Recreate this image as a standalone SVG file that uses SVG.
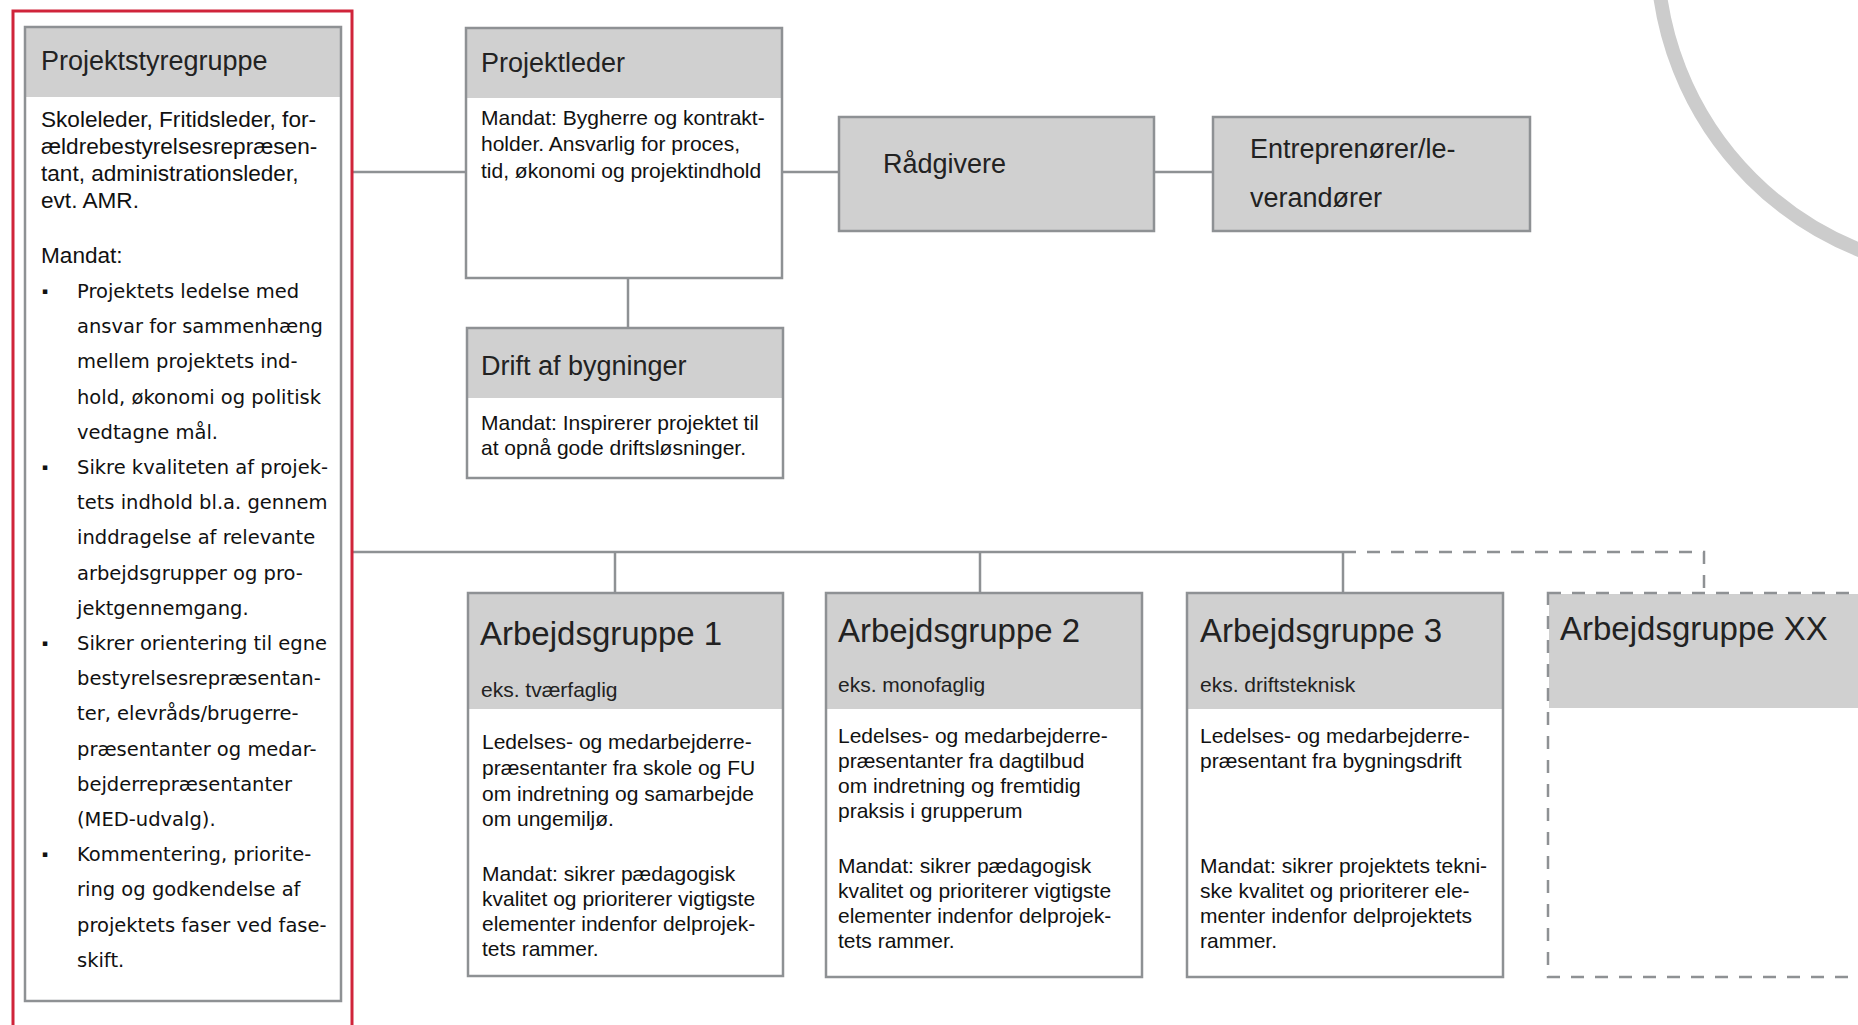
<svg xmlns="http://www.w3.org/2000/svg" width="1858" height="1025" viewBox="0 0 1858 1025">
<style>
  .bg{fill:#ffffff;stroke:none}
  .hdr{fill:#d0d0d0;stroke:none}
  .frame{fill:none;stroke:#8e9194;stroke-width:2.5}
  .dframe{fill:none;stroke:#8e9194;stroke-width:2.5;stroke-dasharray:13 11}
  .conn{fill:none;stroke:#8e9194;stroke-width:2.5}
  .dconn{fill:none;stroke:#8e9194;stroke-width:2.5;stroke-dasharray:13 11}
  .title{font-family:"Liberation Sans",Arial,sans-serif;font-size:27px;fill:#222}
  .big{font-family:"Liberation Sans",Arial,sans-serif;font-size:33px;fill:#222}
  .sub{font-family:"Liberation Sans",Arial,sans-serif;font-size:21px;fill:#222}
  .body{font-family:"Liberation Sans",Arial,sans-serif;font-size:21px;fill:#111}
  .body2{font-family:"Liberation Sans",Arial,sans-serif;font-size:22.6px;fill:#111}
  .bul{font-family:"DejaVu Sans",Verdana,sans-serif;font-size:19.5px;fill:#111}
  .dot{font-family:"DejaVu Sans",Verdana,sans-serif;font-size:9px;fill:#111}
</style>

<circle cx="1979" cy="-49" r="322" fill="none" stroke="#cccccc" stroke-width="14"/>

<g id="connectors">
  <path class="conn" d="M352,172 H466"/>
  <path class="conn" d="M782,172 H839"/>
  <path class="conn" d="M1154,172 H1213"/>
  <path class="conn" d="M628,278 V328"/>
  <path class="conn" d="M352,552 H1343"/>
  <path class="conn" d="M615,552 V593"/>
  <path class="conn" d="M980,552 V593"/>
  <path class="conn" d="M1343,552 V593"/>
  <path class="dconn" d="M1343,552 H1704 V593"/>
</g>

<g id="projektstyregruppe">
  <rect x="13" y="11" width="339" height="1030" fill="none" stroke="#d0243a" stroke-width="3"/>
  <rect class="bg" x="25" y="27" width="316" height="974"/>
  <rect class="hdr" x="25" y="27" width="316" height="70"/>
  <rect class="frame" x="25" y="27" width="316" height="974"/>
  <text class="title" x="41" y="70">Projektstyregruppe</text>
  <text class="body2" x="41" y="127">Skoleleder, Fritidsleder, for-</text>
  <text class="body2" x="41" y="154">ældrebestyrelsesrepræsen-</text>
  <text class="body2" x="41" y="181">tant, administrationsleder,</text>
  <text class="body2" x="41" y="208">evt. AMR.</text>
  <text class="body2" x="41" y="263">Mandat:</text>
  <g class="dot">
    <text x="42" y="294">▪</text>
    <text x="42" y="470">▪</text>
    <text x="42" y="646">▪</text>
    <text x="42" y="857">▪</text>
  </g>
  <g class="bul">
    <text x="77" y="298">Projektets ledelse med</text>
    <text x="77" y="333">ansvar for sammenhæng</text>
    <text x="77" y="368">mellem projektets ind-</text>
    <text x="77" y="404">hold, økonomi og politisk</text>
    <text x="77" y="439">vedtagne mål.</text>
    <text x="77" y="474">Sikre kvaliteten af projek-</text>
    <text x="77" y="509">tets indhold bl.a. gennem</text>
    <text x="77" y="544">inddragelse af relevante</text>
    <text x="77" y="580">arbejdsgrupper og pro-</text>
    <text x="77" y="615">jektgennemgang.</text>
    <text x="77" y="650">Sikrer orientering til egne</text>
    <text x="77" y="685">bestyrelsesrepræsentan-</text>
    <text x="77" y="720">ter, elevråds/brugerre-</text>
    <text x="77" y="756">præsentanter og medar-</text>
    <text x="77" y="791">bejderrepræsentanter</text>
    <text x="77" y="826">(MED-udvalg).</text>
    <text x="77" y="861">Kommentering, priorite-</text>
    <text x="77" y="896">ring og godkendelse af</text>
    <text x="77" y="932">projektets faser ved fase-</text>
    <text x="77" y="967">skift.</text>
  </g>
</g>

<g id="projektleder">
  <rect class="bg" x="466" y="28" width="316" height="250"/>
  <rect class="hdr" x="466" y="28" width="316" height="70"/>
  <rect class="frame" x="466" y="28" width="316" height="250"/>
  <text class="title" x="481" y="72">Projektleder</text>
  <text class="body" x="481" y="125">Mandat: Bygherre og kontrakt-</text>
  <text class="body" x="481" y="151">holder. Ansvarlig for proces,</text>
  <text class="body" x="481" y="178">tid, økonomi og projektindhold</text>
</g>

<g id="drift">
  <rect class="bg" x="467" y="328" width="316" height="150"/>
  <rect class="hdr" x="467" y="328" width="316" height="70"/>
  <rect class="frame" x="467" y="328" width="316" height="150"/>
  <text class="title" x="481" y="375">Drift af bygninger</text>
  <text class="body" x="481" y="430">Mandat: Inspirerer projektet til</text>
  <text class="body" x="481" y="455">at opnå gode driftsløsninger.</text>
</g>

<g id="raadgivere">
  <rect class="hdr" x="839" y="117" width="315" height="114"/>
  <rect class="frame" x="839" y="117" width="315" height="114"/>
  <text class="title" x="883" y="173">Rådgivere</text>
</g>

<g id="entreprenoerer">
  <rect class="hdr" x="1213" y="117" width="317" height="114"/>
  <rect class="frame" x="1213" y="117" width="317" height="114"/>
  <text class="title" x="1250" y="158">Entreprenører/le-</text>
  <text class="title" x="1250" y="207">verandører</text>
</g>

<g id="arbejdsgruppe1">
  <rect class="bg" x="468" y="593" width="315" height="383"/>
  <rect class="hdr" x="468" y="593" width="315" height="116"/>
  <rect class="frame" x="468" y="593" width="315" height="383"/>
  <text class="big" x="480" y="645">Arbejdsgruppe 1</text>
  <text class="sub" x="481" y="697">eks. tværfaglig</text>
  <text class="body" x="482" y="749">Ledelses- og medarbejderre-</text>
  <text class="body" x="482" y="775">præsentanter fra skole og FU</text>
  <text class="body" x="482" y="801">om indretning og samarbejde</text>
  <text class="body" x="482" y="826">om ungemiljø.</text>
  <text class="body" x="482" y="881">Mandat: sikrer pædagogisk</text>
  <text class="body" x="482" y="906">kvalitet og prioriterer vigtigste</text>
  <text class="body" x="482" y="931">elementer indenfor delprojek-</text>
  <text class="body" x="482" y="956">tets rammer.</text>
</g>

<g id="arbejdsgruppe2">
  <rect class="bg" x="826" y="593" width="316" height="384"/>
  <rect class="hdr" x="826" y="593" width="316" height="116"/>
  <rect class="frame" x="826" y="593" width="316" height="384"/>
  <text class="big" x="838" y="642">Arbejdsgruppe 2</text>
  <text class="sub" x="838" y="692">eks. monofaglig</text>
  <text class="body" x="838" y="743">Ledelses- og medarbejderre-</text>
  <text class="body" x="838" y="768">præsentanter fra dagtilbud</text>
  <text class="body" x="838" y="793">om indretning og fremtidig</text>
  <text class="body" x="838" y="818">praksis i grupperum</text>
  <text class="body" x="838" y="873">Mandat: sikrer pædagogisk</text>
  <text class="body" x="838" y="898">kvalitet og prioriterer vigtigste</text>
  <text class="body" x="838" y="923">elementer indenfor delprojek-</text>
  <text class="body" x="838" y="948">tets rammer.</text>
</g>

<g id="arbejdsgruppe3">
  <rect class="bg" x="1187" y="593" width="316" height="384"/>
  <rect class="hdr" x="1187" y="593" width="316" height="116"/>
  <rect class="frame" x="1187" y="593" width="316" height="384"/>
  <text class="big" x="1200" y="642">Arbejdsgruppe 3</text>
  <text class="sub" x="1200" y="692">eks. driftsteknisk</text>
  <text class="body" x="1200" y="743">Ledelses- og medarbejderre-</text>
  <text class="body" x="1200" y="768">præsentant fra bygningsdrift</text>
  <text class="body" x="1200" y="873">Mandat: sikrer projektets tekni-</text>
  <text class="body" x="1200" y="898">ske kvalitet og prioriterer ele-</text>
  <text class="body" x="1200" y="923">menter indenfor delprojektets</text>
  <text class="body" x="1200" y="948">rammer.</text>
</g>

<g id="arbejdsgruppeXX">
  <rect class="hdr" x="1549" y="594" width="320" height="114"/>
  <rect class="dframe" x="1548" y="593" width="330" height="384"/>
  <text class="big" x="1560" y="640">Arbejdsgruppe XX</text>
</g>
</svg>
